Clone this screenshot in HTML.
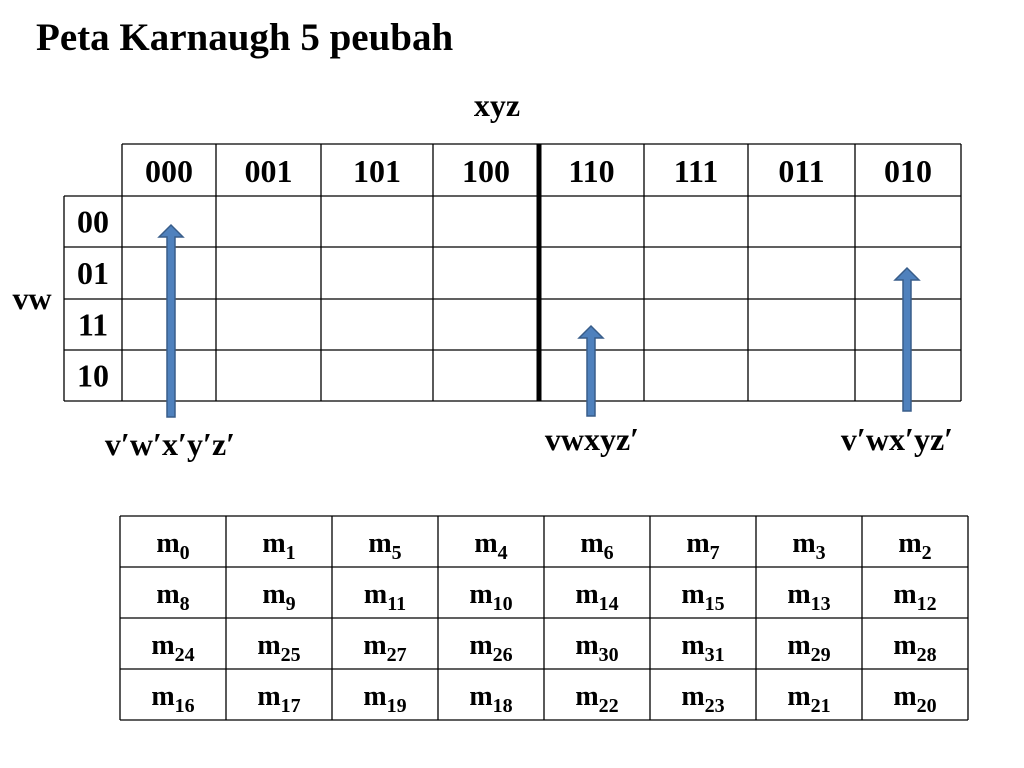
<!DOCTYPE html>
<html><head><meta charset="utf-8"><style>
html,body{margin:0;padding:0;background:#fff;width:1024px;height:768px;overflow:hidden}
svg text{font-family:"Liberation Serif",serif;font-weight:bold;fill:#000}
</style></head><body>
<svg width="1024" height="768" viewBox="0 0 1024 768">
<text x="36" y="50" font-size="39">Peta Karnaugh 5 peubah</text>
<text x="497" y="116" font-size="32" text-anchor="middle">xyz</text>
<text x="32" y="309" font-size="32" text-anchor="middle">vw</text>
<g id="topmap"></g>
<g id="bot"></g>
<g id="arrows"></g>
<text x="170" y="455" font-size="32" text-anchor="middle">v′w′x′y′z′</text>
<text x="592" y="450" font-size="32" text-anchor="middle">vwxyz′</text>
<text x="897" y="450" font-size="32" text-anchor="middle">v′wx′yz′</text>
</svg>
<script>
const colLabels=["000","001","101","100","110","111","011","010"];
const rowLabels=["00","01","11","10"];
const minterms=[[0,1,5,4,6,7,3,2],[8,9,11,10,14,15,13,12],[24,25,27,26,30,31,29,28],[16,17,19,18,22,23,21,20]];
const NS="http://www.w3.org/2000/svg";
function mk(t,a,p){const e=document.createElementNS(NS,t);for(const k in a)e.setAttribute(k,a[k]);p.appendChild(e);return e;}
const tg=document.getElementById('topmap');
const xs=[122,216,321,433,539,644,748,855,961];
const ys=[144,196,247,299,350,401];
const L=64;
for(let i=0;i<ys.length;i++){const l=mk('line',{x1:i==0?xs[0]:L,x2:xs[8],y1:ys[i],y2:ys[i],stroke:'#000','stroke-width':1.3},tg);

}
mk('line',{x1:L,x2:L,y1:ys[1],y2:ys[5],stroke:'#000','stroke-width':1.3},tg);
for(let j=0;j<xs.length;j++){const l=mk('line',{x1:xs[j],x2:xs[j],y1:ys[0],y2:ys[5],stroke:'#000','stroke-width':j==4?5:1.3},tg);

}
colLabels.forEach((c,j)=>{const t=mk('text',{x:(xs[j]+xs[j+1])/2,y:182,'font-size':32,'text-anchor':'middle'},tg);t.textContent=c;

});
rowLabels.forEach((r,i)=>{const t=mk('text',{x:93,y:(ys[i+1]+ys[i+2])/2+11,'font-size':32,'text-anchor':'middle'},tg);t.textContent=r;

});
const bot=document.getElementById('bot');
const bx0=120,bw=106,by0=516,bh=51;
for(let i=0;i<=4;i++)mk('line',{x1:bx0,x2:bx0+8*bw,y1:by0+i*bh,y2:by0+i*bh,stroke:'#000','stroke-width':1.3},bot);
for(let j=0;j<=8;j++)mk('line',{x1:bx0+j*bw,x2:bx0+j*bw,y1:by0,y2:by0+4*bh,stroke:'#000','stroke-width':1.3},bot);
minterms.forEach((row,i)=>row.forEach((m,j)=>{const t=mk('text',{x:bx0+j*bw+bw/2,y:by0+i*bh+36,'font-size':28,'text-anchor':'middle'},bot);


const a=mk('tspan',{},t);a.textContent='m';const b=mk('tspan',{'font-size':20,dy:7},t);b.textContent=String(m);}));
const arr=document.getElementById('arrows');
[[171,417,225],[591,416,326],[907,411,268]].forEach(([x,y0,y1])=>{
const p=mk('path',{d:`M${x-4},${y0} L${x-4},${y1+12} L${x-12},${y1+12} L${x},${y1} L${x+12},${y1+12} L${x+4},${y1+12} L${x+4},${y0} Z`,fill:'#4f81bd',stroke:'#385d8a','stroke-width':1.5},arr);

});
</script>
</body></html>
